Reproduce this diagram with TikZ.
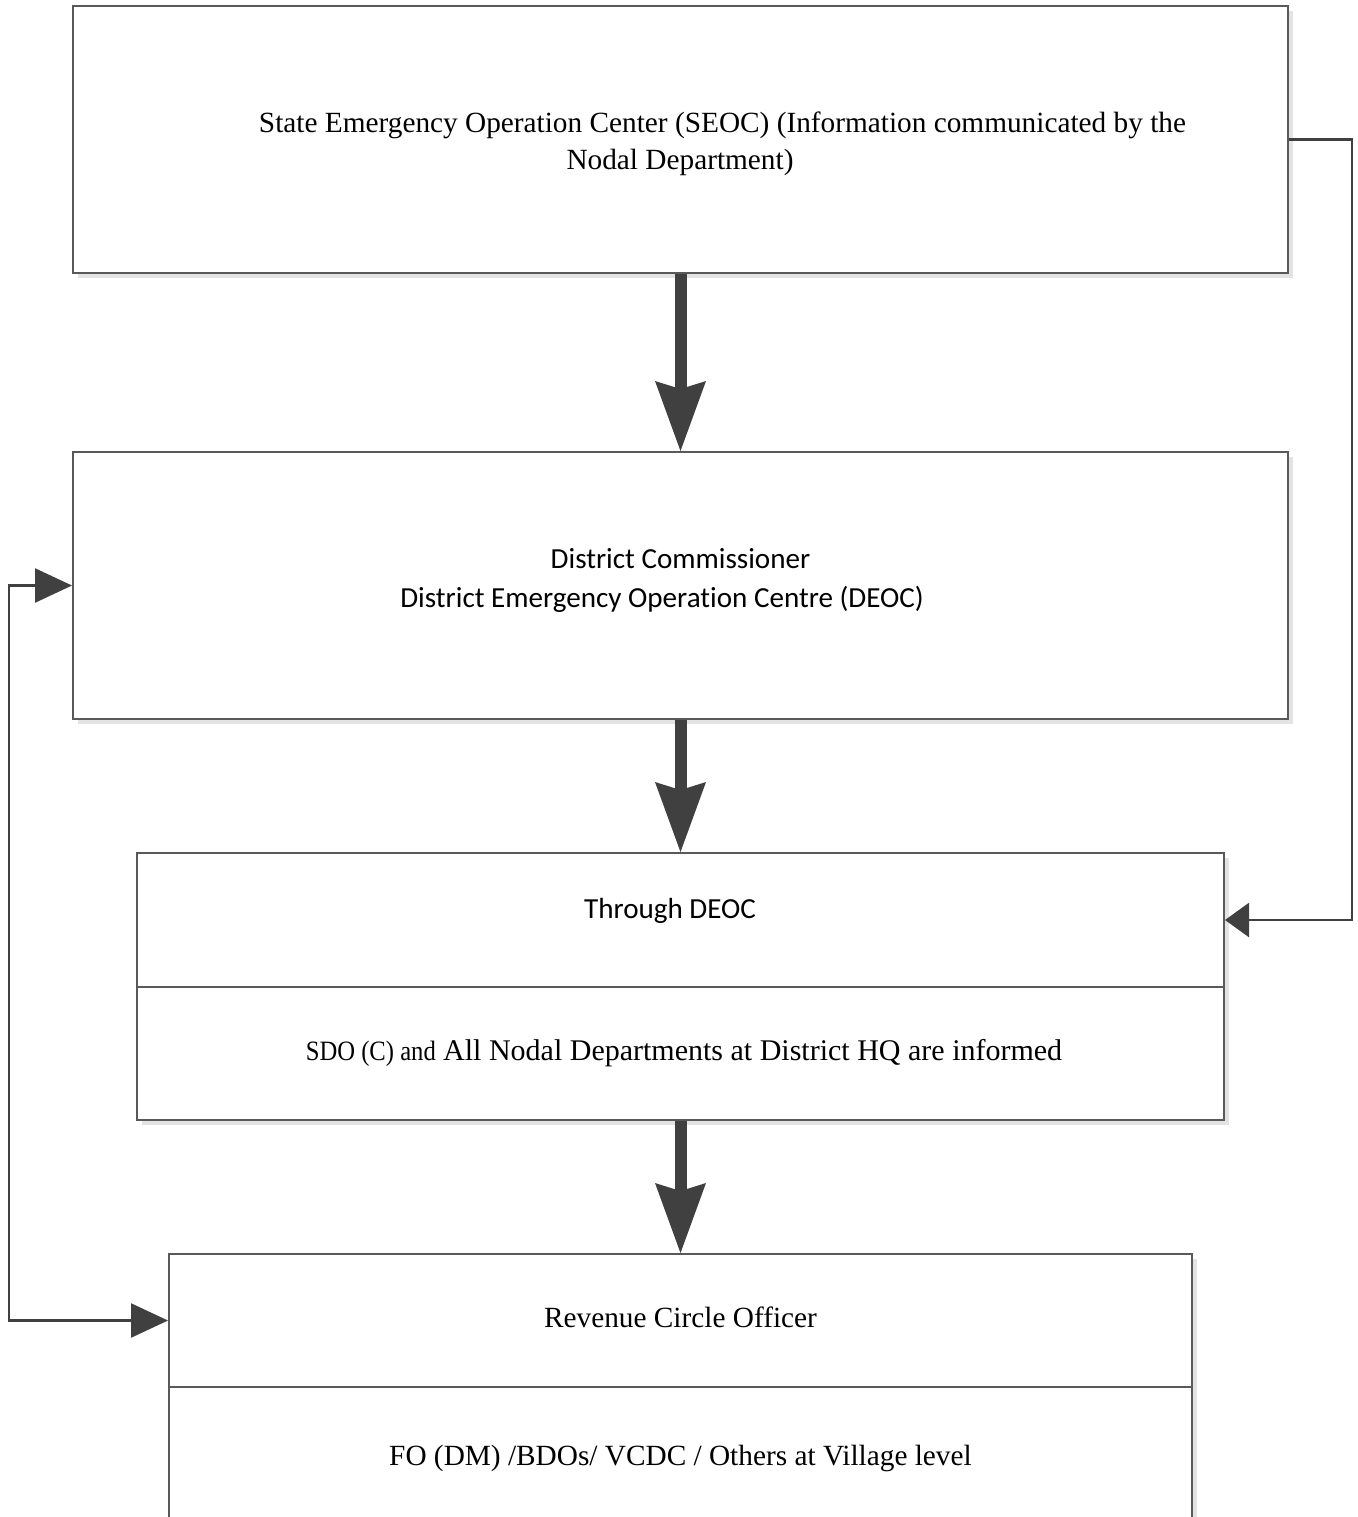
\documentclass[tikz,border=0pt]{standalone}
\usepackage{fontspec}
\setmainfont{Liberation Serif}
\newfontfamily\calibrifont[RawFeature={-liga;-calt;-dlig;-rlig}]{Carlito}
\usetikzlibrary{arrows.meta,fit,shadows}
\definecolor{edge}{HTML}{595959}
\definecolor{ink}{HTML}{404040}
\definecolor{shade}{HTML}{E3E3E3}
\begin{document}
\begin{tikzpicture}[x=0.5pt,y=-0.5pt,
  box/.style={draw=edge, line width=1pt, fill=white, inner sep=0pt,
    drop shadow={shadow xshift=2.5pt, shadow yshift=-2.5pt, fill=shade, opacity=1}},
  label/.style={anchor=base, inner sep=0pt, font=\fontsize{14.65}{18}\selectfont},
  clabel/.style={anchor=base, inner sep=0pt, font=\calibrifont\fontsize{14.55}{18}\selectfont},
  conn/.style={draw=ink, line width=1.2pt},
  bigflow/.style={draw=ink, line width=6pt,
    -{Stealth[length=35pt, width=25.5pt, inset=4pt, line width=0pt, fill=ink]}}]
\useasboundingbox (0,0) rectangle (1358,1517);
\clip (0,0) rectangle (1358,1517);
\fill[white] (0,0) rectangle (1358,1517);

% boxes
\node[box, fit={(73,6) (1288,273)}] (seoc) {};
\node[box, fit={(73,452) (1288,719)}] (dc) {};
\node[box, fit={(137,853) (1224,987)}] (through) {};
\node[box, fit={(137,987) (1224,1120)}] (sdo) {};
\node[box, fit={(169,1254) (1192,1387)}] (rco) {};
\node[box, fit={(169,1387) (1192,1545)}] (fo) {};

% texts
\node[label] (t1a) at (722.5,132) {State Emergency Operation Center (SEOC) (Information communicated by the};
\node[label] (t1b) at (680,169) {Nodal Department)};
\node[clabel] (t2a) at (680.5,568) {District Commissioner};
\node[clabel] (t2b) at (662,607) {District Emergency Operation Centre (DEOC)};
\node[clabel] (t3) at (670,918) {Through DEOC};
\node[label] (t4) at (684,1060) {\scalebox{0.88}[1]{\fontsize{14}{16}\selectfont SDO (C) and} {\fontsize{15}{18}\selectfont All Nodal Departments at District HQ are informed}};
\node[label] (t5) at (680.5,1327) {Revenue Circle Officer};
\node[label] (t6) at (680.5,1465) {FO (DM) /BDOs/ VCDC / Others at Village level};

% main downward flow
\draw[bigflow] (seoc.south) -- (dc.north);
\draw[bigflow] (dc.south) -- (dc.south |- through.north);
\draw[bigflow] (sdo.south -| dc.south) -- (dc.south |- rco.north);

% side connectors
\coordinate (rt) at (1352,0);
\coordinate (lt) at (9,0);
\draw[conn, -{Triangle[length=12pt, width=17pt, fill=ink]}]
  (seoc.east) -| (rt |- through.east) -- (through.east);
\draw[conn, {Triangle[length=18.5pt, width=17pt, fill=ink]}-{Triangle[length=18.5pt, width=17pt, fill=ink]}]
  (dc.west) -- (lt |- dc.west) -- (lt |- rco.west) -- (rco.west);
\end{tikzpicture}
\end{document}
